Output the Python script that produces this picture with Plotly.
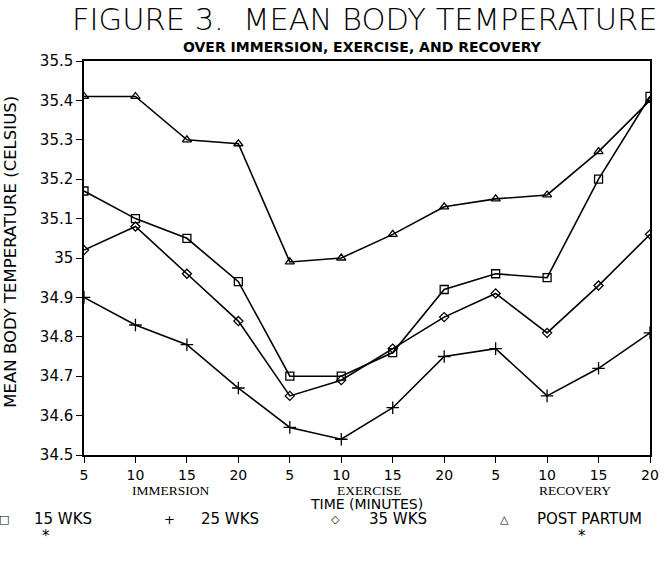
import plotly.graph_objects as go

time_labels = ["5", "10", "15", "20", "5", "10", "15", "20", "5", "10", "15", "20"]
phases = ["IMMERSION", "EXERCISE", "RECOVERY"]
wks15 = [35.17, 35.10, 35.05, 34.94, 34.70, 34.70, 34.76, 34.92, 34.96, 34.95, 35.20, 35.41]
wks25 = [34.90, 34.83, 34.78, 34.67, 34.57, 34.54, 34.62, 34.75, 34.77, 34.65, 34.72, 34.81]
wks35 = [35.02, 35.08, 34.96, 34.84, 34.65, 34.69, 34.77, 34.85, 34.91, 34.81, 34.93, 35.06]
post_partum = [35.41, 35.41, 35.30, 35.29, 34.99, 35.00, 35.06, 35.13, 35.15, 35.16, 35.27, 35.40]
y_ticks = [34.5, 34.6, 34.7, 34.8, 34.9, 35.0, 35.1, 35.2, 35.3, 35.4, 35.5]
y_tick_text = ["34.5", "34.6", "34.7", "34.8", "34.9", "35", "35.1", "35.2", "35.3", "35.4", "35.5"]
legend_names = ["15 WKS", "25 WKS", "35 WKS", "POST PARTUM"]

W, H = 671, 565
ML, MR, MT, MB = 84, 16, 61, 110
PW, PH = W - ML - MR, H - MT - MB

x = list(range(len(time_labels)))
series = [
    (legend_names[0], wks15, "square-open", 8),
    (legend_names[1], wks25, "cross-thin-open", 9),
    (legend_names[2], wks35, "diamond-open", 7),
    (legend_names[3], post_partum, "triangle-up-open", 8),
]

fig = go.Figure()
for name, vals, sym, size in series:
    fig.add_trace(go.Scatter(
        x=x, y=vals, mode="lines+markers", name=name,
        line=dict(color="black", width=1.6),
        marker=dict(symbol=sym, size=size, color="black", line=dict(color="black", width=1.3)),
        showlegend=False,
    ))

sans = "DejaVu Sans, Verdana, sans-serif"
serif = "Liberation Serif, DejaVu Serif, serif"

axis_common = dict(
    showgrid=False, zeroline=False, showline=True, linecolor="black", linewidth=1.5,
    mirror=True, ticks="outside", ticklen=6, tickwidth=1.2, tickcolor="black",
)
fig.update_layout(
    width=W, height=H,
    margin=dict(l=ML, r=MR, t=MT, b=MB),
    paper_bgcolor="white", plot_bgcolor="white",
    font=dict(family=sans, color="black", size=14),
    xaxis=dict(range=[0, 11], tickmode="array", tickvals=x, ticktext=time_labels,
               tickfont=dict(size=14, family=sans), **axis_common),
    yaxis=dict(range=[34.5, 35.5], tickmode="array", tickvals=y_ticks, ticktext=y_tick_text,
               tickfont=dict(size=15, family=sans), **axis_common),
)


def px_x(v):
    return (v - ML) / PW


def px_y(v):
    return (H - MB - v) / PH


def add_px_text(text, xp, yp, size, family=sans, xanchor="center", angle=0, weight="normal"):
    fig.add_annotation(text=text, x=px_x(xp), y=px_y(yp), xref="paper", yref="paper",
                       xanchor=xanchor, yanchor="middle", showarrow=False, textangle=angle,
                       font=dict(size=size, family=family, weight=weight))


add_px_text("FIGURE 3.  MEAN BODY TEMPERATURE", 367, 19, 30.5, weight=300)
add_px_text("OVER IMMERSION, EXERCISE, AND RECOVERY", 365, 47, 14, weight="bold")
add_px_text("MEAN BODY TEMPERATURE (CELSIUS)", 10, 252, 16.5, angle=-90)

phase_pos = [1.7, 5.55, 9.55]
for p, label in zip(phase_pos, phases):
    fig.add_annotation(text=label, x=p, xref="x", y=0, yref="paper", yshift=-35,
                       xanchor="center", yanchor="middle", showarrow=False,
                       font=dict(size=13.5, family=serif))
add_px_text("TIME (MINUTES)", 369, 504, 14)

legend_symbols = ["\u25a1", "+", "\u25c7", "\u25b3"]
symbol_x = [3, 170, 338, 508]
label_x = [32, 200, 369, 539]
for sym, sx, label, tx in zip(legend_symbols, symbol_x, legend_names, label_x):
    add_px_text(sym, sx, 519, 11 if sym != "+" else 13)
    add_px_text(label, tx, 519, 15, xanchor="left")
for sx in [46, 586]:
    add_px_text("*", sx, 536, 15)

fig.write_html("out.html")
